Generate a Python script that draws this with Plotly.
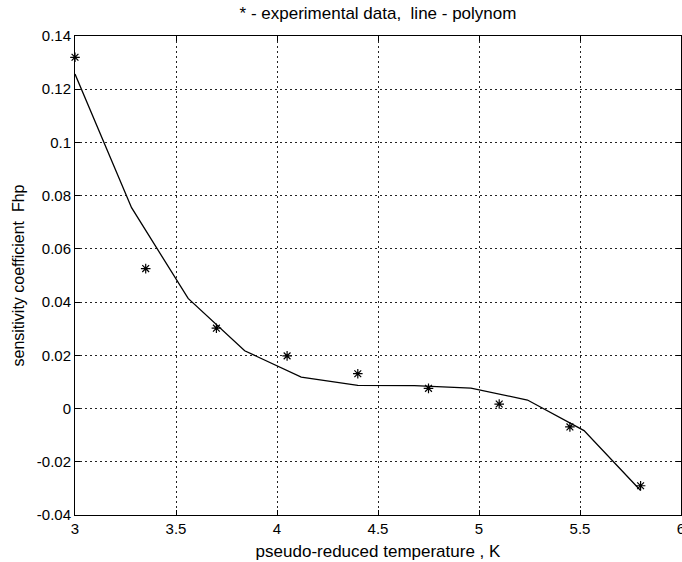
import plotly.graph_objects as go

# experimental data (asterisks)
exp_x = [3.0, 3.35, 3.7, 4.05, 4.4, 4.75, 5.1, 5.45, 5.8]
exp_y = [0.132, 0.0526, 0.0302, 0.0198, 0.0131, 0.0076, 0.0017, -0.0069, -0.0290]

# polynomial line
poly_x = [3.0, 3.28, 3.56, 3.84, 4.12, 4.40, 4.68, 4.96, 5.24, 5.52, 5.80]
poly_y = [0.1257, 0.0755, 0.0414, 0.0217, 0.0118, 0.0087, 0.0086, 0.0077, 0.0032, -0.0083, -0.0308]

x_ticks = [3, 3.5, 4, 4.5, 5, 5.5, 6]
x_ticktext = ["3", "3.5", "4", "4.5", "5", "5.5", "6"]
y_ticks = [-0.04, -0.02, 0, 0.02, 0.04, 0.06, 0.08, 0.1, 0.12, 0.14]
y_ticktext = ["-0.04", "-0.02", "0", "0.02", "0.04", "0.06", "0.08", "0.1", "0.12", "0.14"]

FAM = "Liberation Sans, Arial, sans-serif"
tickfont = dict(family=FAM, size=15, color="black")

fig = go.Figure()
fig.add_trace(go.Scatter(x=poly_x, y=poly_y, mode="lines",
                         line=dict(color="black", width=1.3), showlegend=False))
fig.add_trace(go.Scatter(x=exp_x, y=exp_y, mode="markers",
                         marker=dict(symbol="asterisk-open", size=8, color="black",
                                     line=dict(color="black", width=1.2)),
                         showlegend=False, cliponaxis=False))

axis_common = dict(showline=True, linecolor="black", linewidth=1, mirror="allticks",
                   ticks="inside", ticklen=5, tickcolor="black",
                   showgrid=True, gridcolor="#222222", gridwidth=1, griddash="2px,3px",
                   zeroline=False, tickfont=tickfont, automargin=False,
                   ticklabeloverflow="allow")

fig.update_layout(
    width=682, height=562,
    paper_bgcolor="white", plot_bgcolor="white",
    margin=dict(l=75, r=1, t=36, b=47),
    font=tickfont,
    title=dict(text="* - experimental data, \u00a0line - polynom", x=0.5, xref="paper",
               y=1 - 13 / 562, yanchor="middle",
               font=dict(family=FAM, size=17, color="black")),
    xaxis=dict(range=[3, 6], tickvals=x_ticks, ticktext=x_ticktext,
               title=dict(text="pseudo-reduced temperature , K", standoff=9,
                          font=dict(family=FAM, size=17, color="black")),
               **axis_common),
    yaxis=dict(range=[-0.04, 0.14], tickvals=y_ticks, ticktext=y_ticktext,
               title=dict(text="sensitivity coefficient  Fhp", standoff=8,
                          font=dict(family=FAM, size=16, color="black")),
               **axis_common),
)

fig.write_html("out.html", config={"displayModeBar": False},
               post_script="document.body.style.margin='0';document.body.style.overflow='hidden';")
